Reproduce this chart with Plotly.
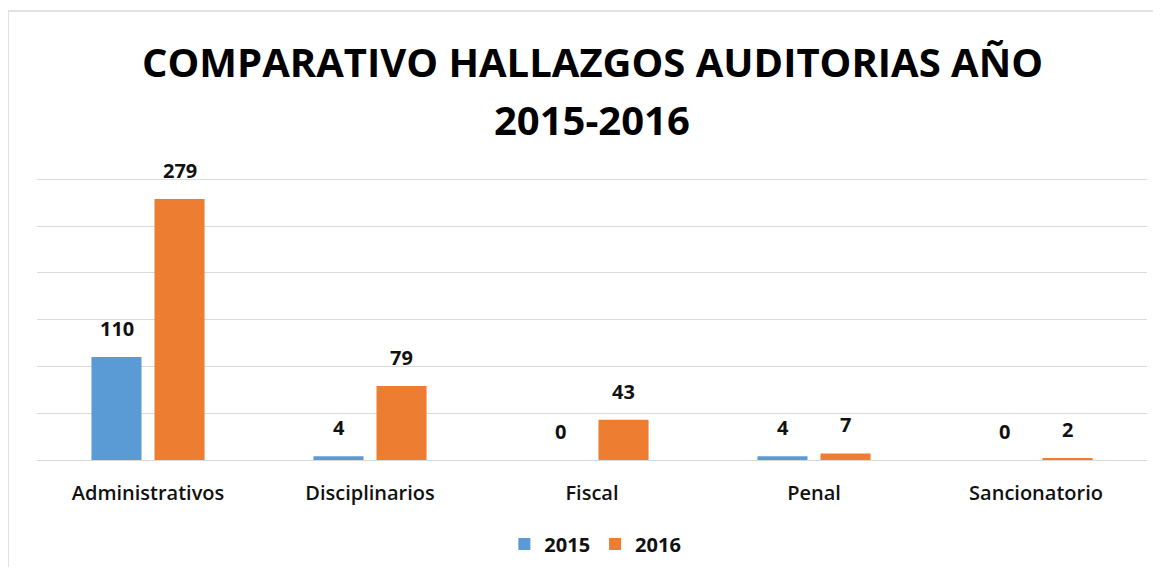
import plotly.graph_objects as go

categories = ["Administrativos", "Disciplinarios", "Fiscal", "Penal", "Sancionatorio"]
values_2015 = [110, 4, 0, 4, 0]
values_2016 = [279, 79, 43, 7, 2]
series_names = ["2015", "2016"]
colors = ["#5B9BD5", "#ED7D31"]
title_lines = ["COMPARATIVO HALLAZGOS AUDITORIAS AÑO", "2015-2016"]
y_max = 300
y_step = 50

FONT = "Open Sans"
# figure is drawn inside the page body (8px default margin), so sizes are reduced by 16
W, H = 1145, 559
ML, MR, MT, MB = 29, 6, 171, 107
PW, PH = W - ML - MR, H - MT - MB
BASE = MT + PH  # pixel row of the baseline in figure coords


def py(fig_y):
    return (BASE - fig_y) / PH


fig = go.Figure()
for name, vals, col in zip(series_names, [values_2015, values_2016], colors):
    fig.add_trace(go.Bar(
        x=categories, y=vals, name=name,
        marker=dict(color=col, line=dict(width=0)),
    ))

# value labels above each bar
shifts = [-31.5, 31.5]
for vals, xs in zip([values_2015, values_2016], shifts):
    for cat, v in zip(categories, vals):
        fig.add_annotation(
            x=cat, y=v, xref="x", yref="y", text=str(v), showarrow=False,
            xanchor="center", yanchor="bottom", xshift=xs, yshift=13,
            font=dict(family=FONT, size=20, color="#111111", weight="bold"),
        )

# title (two lines placed individually)
for line, fy in zip(title_lines, [54, 112]):
    fig.add_annotation(
        x=0.5, y=py(fy), xref="paper", yref="paper", text=line, showarrow=False,
        xanchor="center", yanchor="middle",
        font=dict(family=FONT, size=40, color="#000000", weight="bold"),
    )

fig.update_layout(
    width=W, height=H,
    paper_bgcolor="white", plot_bgcolor="white",
    margin=dict(l=ML, r=MR, t=MT, b=MB, autoexpand=False),
    barmode="group", bargap=0.432, bargroupgap=0.206,
    showlegend=True,
    legend=dict(
        orientation="h", x=0.503, xanchor="center",
        y=py(536), yanchor="middle",
        font=dict(family=FONT, size=20, color="#111111", weight="bold"),
        traceorder="normal",
    ),
)
fig.update_yaxes(
    range=[0, y_max + 0.4], dtick=y_step, showticklabels=False,
    showgrid=True, gridcolor="#D9D9D9", gridwidth=1,
    zeroline=True, zerolinecolor="#D9D9D9", zerolinewidth=1,
    showline=False, fixedrange=True,
)
# top gridline at the axis maximum
fig.add_shape(
    type="line", xref="paper", yref="y", x0=0, x1=1, y0=y_max, y1=y_max,
    line=dict(color="#D9D9D9", width=1), layer="below",
)
fig.update_xaxes(
    showline=False, showgrid=False,
    ticks="outside", ticklen=15, tickcolor="rgba(0,0,0,0)",
    tickfont=dict(family=FONT, size=20, color="#111111", weight=600),
)
fig.add_shape(
    type="rect", xref="paper", yref="paper",
    x0=(0 - ML) / PW, x1=(W + 20 - ML) / PW,
    y0=py(H + 20), y1=py(3),
    line=dict(color="#D9D9D9", width=1.5), fillcolor="rgba(0,0,0,0)", layer="below",
)

fig.write_html("out.html")
